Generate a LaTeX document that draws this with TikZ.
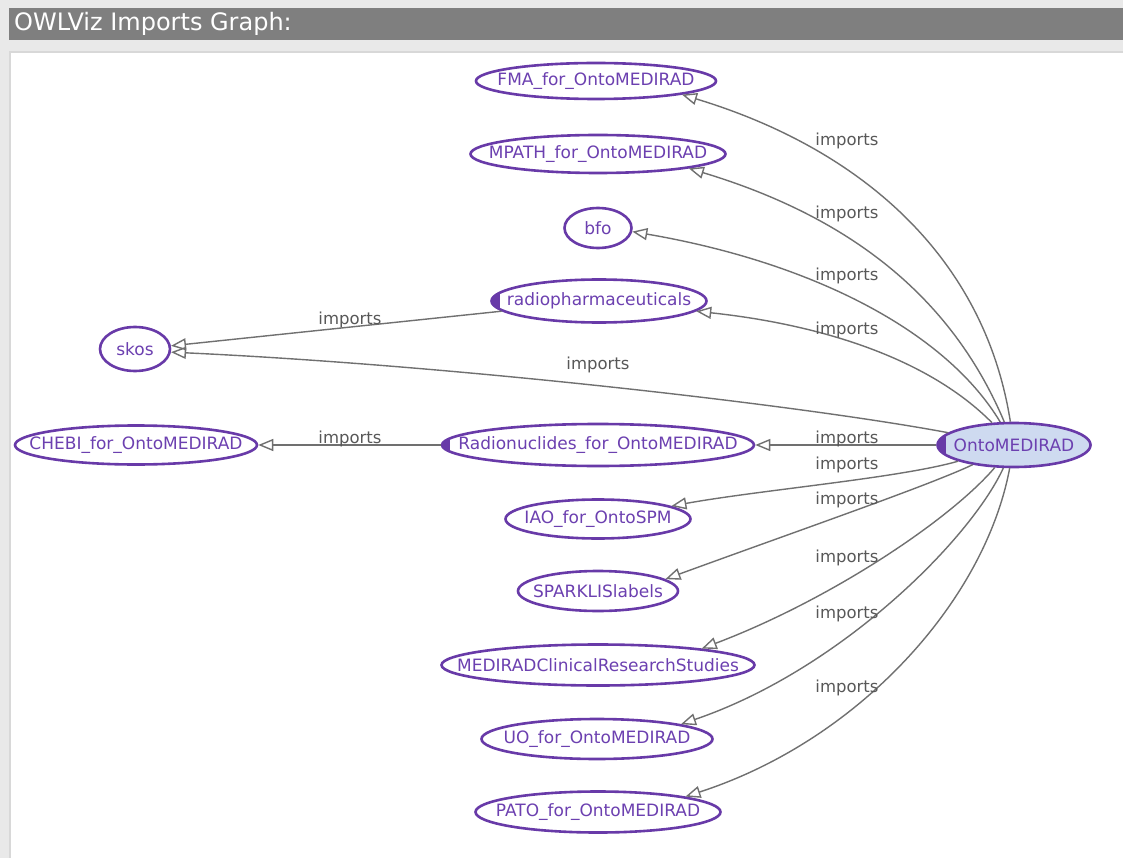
\documentclass[tikz,border=0pt]{standalone}
\usepackage{fontspec}
\setmainfont{DejaVu Sans}
\usetikzlibrary{shapes.geometric,arrows.meta}
\definecolor{owlpurple}{RGB}{104,58,168}
\definecolor{owltext}{RGB}{108,64,176}
\definecolor{owledge}{RGB}{112,112,112}
\definecolor{owllabel}{RGB}{88,88,88}
\definecolor{owlfill}{RGB}{206,218,240}
\definecolor{owlbg}{RGB}{233,233,233}
\definecolor{owlline}{RGB}{216,216,216}
\definecolor{owlbar}{RGB}{127,127,127}
\tikzset{
  onto/.style={ellipse, draw=owlpurple, line width=2.6pt, fill=white, text=owltext,
    inner sep=0pt, font=\fontsize{17}{19}\selectfont,
    execute at begin node={\hbox to 0pt\bgroup\hss},
    execute at end node={\hss\egroup}},
  srcmark/.style={path picture={\fill[owlpurple] (path picture bounding box.south west)
    rectangle ([xshift=8pt]path picture bounding box.north west);}},
  imp/.style={-{Triangle[open,length=15pt,width=12pt]}, draw=owledge, line width=1.4pt},
  implabel/.style={text=owllabel, inner sep=0pt, font=\fontsize{16.5}{18}\selectfont},
}

\begin{document}
\begin{tikzpicture}[x=1pt,y=-1pt]
\useasboundingbox (0,0) rectangle (1123,858);
% frame
\fill[owlbg] (0,0) rectangle (1123,858);
\fill[owlbar] (9,8) rectangle (1123,40);
\node[anchor=west, text=white, inner sep=0pt, font=\fontsize{24}{27}\selectfont] (title) at (14,24) {OWLViz Imports Graph:};
\fill[owlline] (9,51) rectangle (1123,858);
\fill[white] (11,53) rectangle (1123,858);

% ontologies
\node[onto, minimum width=240pt, minimum height=36pt] (fma) at (596,81) {FMA\_for\_OntoMEDIRAD};
\node[onto, minimum width=255pt, minimum height=38pt] (mpath) at (598,154) {MPATH\_for\_OntoMEDIRAD};
\node[onto, minimum width=67pt, minimum height=40pt] (bfo) at (598,228) {bfo};
\node[onto, srcmark, minimum width=215pt, minimum height=43pt] (radio) at (599,301) {radiopharmaceuticals};
\node[onto, minimum width=70pt, minimum height=44pt] (skos) at (135,349) {skos};
\node[onto, minimum width=242pt, minimum height=39pt] (chebi) at (136,445) {CHEBI\_for\_OntoMEDIRAD};
\node[onto, srcmark, minimum width=312pt, minimum height=42pt] (nucl) at (598,445) {Radionuclides\_for\_OntoMEDIRAD};
\node[onto, srcmark, fill=owlfill, minimum width=153pt, minimum height=44pt] (onto) at (1014,445) {OntoMEDIRAD};
\node[onto, minimum width=185pt, minimum height=39pt] (iao) at (598,519) {IAO\_for\_OntoSPM};
\node[onto, minimum width=160pt, minimum height=40pt] (sparklis) at (598,591) {SPARKLISlabels};
\node[onto, minimum width=313pt, minimum height=41pt] (studies) at (598,665) {MEDIRADClinicalResearchStudies};
\node[onto, minimum width=231pt, minimum height=40pt] (uo) at (597,739) {UO\_for\_OntoMEDIRAD};
\node[onto, minimum width=245pt, minimum height=41pt] (pato) at (598,812) {PATO\_for\_OntoMEDIRAD};

% imports
\path[imp] (onto) .. controls (985,260) and (865,150) .. (fma.-9);
\path[imp] (onto) .. controls (955,305) and (860,220) .. (mpath.-9);
\path[imp] (onto) .. controls (945,330) and (810,262) .. (bfo.-6);
\path[imp] (onto) .. controls (930,360) and (825,325) .. (radio.-6);
\path[imp] (onto) .. controls (800,405) and (450,365) .. (skos.-5);
\path[imp] (radio) -- (skos.5);
\path[imp] (onto) -- (nucl);
\path[imp] (nucl) -- (chebi);
\path[imp] (onto) .. controls (900,478) and (760,490) .. (iao.10);
\path[imp] (onto) .. controls (930,485) and (800,530) .. (sparklis.10);
\path[imp] (onto) .. controls (950,520) and (830,600) .. (studies.9);
\path[imp] (onto) .. controls (970,540) and (840,670) .. (uo.10);
\path[imp] (onto) .. controls (985,600) and (860,740) .. (pato.10);

\node[implabel] (lfma) at (847,141) {imports};
\node[implabel] (lmpath) at (847,214) {imports};
\node[implabel] (lbfo) at (847,276) {imports};
\node[implabel] (lradio) at (847,330) {imports};
\node[implabel] (lskos) at (598,365) {imports};
\node[implabel] (lradioskos) at (350,320) {imports};
\node[implabel] (lchebi) at (350,439) {imports};
\node[implabel] (lnucl) at (847,439) {imports};
\node[implabel] (liao) at (847,465) {imports};
\node[implabel] (lsparklis) at (847,500) {imports};
\node[implabel] (lstudies) at (847,558) {imports};
\node[implabel] (luo) at (847,614) {imports};
\node[implabel] (lpato) at (847,688) {imports};
\end{tikzpicture}
\end{document}
